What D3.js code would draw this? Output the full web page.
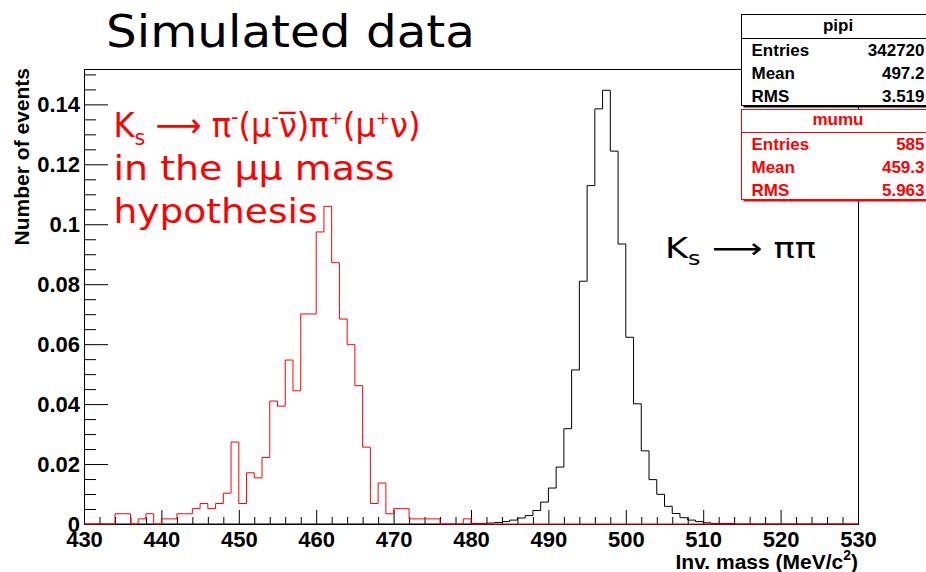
<!DOCTYPE html>
<html lang="en">
<head>
<meta charset="utf-8">
<title>Simulated data</title>
<script src="https://d3js.org/d3.v7.min.js"></script>
<style>
  body { margin: 0; background: #fff; }
  .tick text { font: bold 22px "Liberation Sans", Arial, sans-serif; fill: #000; }
  .tick line { stroke: #000; }
  .stat { font: bold 17px "Liberation Sans", Arial, sans-serif; }
  .slide { font-family: "DejaVu Sans", Verdana, sans-serif; }
</style>
</head>
<body>
<svg width="926" height="572"></svg>
<script>
// axis ranges / ticks
const xRange = [430, 530];
const yTop = 0.1518;
const xMajor = [430, 440, 450, 460, 470, 480, 490, 500, 510, 520, 530];
const yMajor = [0, 0.02, 0.04, 0.06, 0.08, 0.1, 0.12, 0.14];

// pipi: normalised bin contents (1 MeV bins) starting at 480 MeV
const pipiStart = 480;
const pipiValues = [
  0.0002, 0.0002, 0.0003, 0.0005, 0.0008, 0.0013, 0.002, 0.0028, 0.0045, 0.0073,
  0.012, 0.019, 0.0318, 0.0514, 0.081, 0.1129, 0.1385, 0.1447, 0.1244, 0.0934,
  0.0623, 0.0401, 0.0244, 0.0148, 0.0099, 0.0059, 0.0035, 0.0021, 0.0013, 0.0008,
  0.0004, 0.0002, 0.0002, 0.0002
];

// mumu: counts per 1 MeV bin starting at 434 MeV (drawn divided by entries)
const mumuStart = 434;
const mumuCounts = [
  2, 2, 0, 1, 2, 0, 1, 1, 2, 2,
  3, 4, 3, 4, 6, 16, 4, 10, 9, 13,
  24, 23, 32, 26, 41, 41, 57, 62, 51, 40,
  35, 27, 15, 4, 8, 2, 3, 3, 1, 1,
  1, 1, 0, 0, 0, 1
];

const statNames = ["Entries", "Mean", "RMS"];
const pipiStats = ["342720", "497.2", "3.519"];
const mumuStats = ["585", "459.3", "5.963"];

const svg = d3.select("svg");
const x = d3.scaleLinear().domain(xRange).range([84, 858]);
const y = d3.scaleLinear().domain([0, yTop]).range([524, 69]);

// frame
svg.append("rect")
  .attr("x", 84.5).attr("y", 69.5)
  .attr("width", 774).attr("height", 455)
  .attr("fill", "none").attr("stroke", "#000");

// axes (ticks inside the frame, ROOT style)
const minorX = d3.range(430, 531, 2).filter(d => d % 10 !== 0);
const minorY = d3.range(0, 0.1501, 0.005).filter(d => Math.round(d * 1000) % 20 !== 0);

const gx = svg.append("g").attr("transform", "translate(0,524)");
gx.call(d3.axisBottom(x).tickValues(minorX).tickSizeInner(-7).tickSizeOuter(0).tickFormat(""));
gx.append("g").call(d3.axisBottom(x).tickValues(xMajor).tickSizeInner(-14).tickSizeOuter(0)
  .tickPadding(7).tickFormat(d3.format("d")));

const gy = svg.append("g").attr("transform", "translate(84,0)");
gy.call(d3.axisLeft(y).tickValues(minorY).tickSizeInner(-12).tickSizeOuter(0).tickFormat(""));
gy.append("g").call(d3.axisLeft(y).tickValues(yMajor).tickSizeInner(-24).tickSizeOuter(0)
  .tickPadding(4).tickFormat(d => d === 0 ? "0" : d3.format(".2~f")(d)));

svg.selectAll(".domain").remove();

// histograms
function fullBins(start, vals, scale) {
  const pts = [];
  for (let b = xRange[0]; b < xRange[1]; b++) {
    const i = b - start;
    const v = (i >= 0 && i < vals.length) ? vals[i] * scale : 0;
    pts.push([b, v]);
  }
  pts.push([xRange[1], pts[pts.length - 1][1]]);
  return pts;
}
const step = d3.line().x(d => x(d[0])).y(d => y(d[1])).curve(d3.curveStepAfter);

svg.append("path")
  .attr("d", step(fullBins(pipiStart, pipiValues, 1)))
  .attr("fill", "none").attr("stroke", "#000").attr("stroke-width", 1);

svg.append("path")
  .attr("d", step(fullBins(mumuStart, mumuCounts, 1 / +mumuStats[0])))
  .attr("fill", "none").attr("stroke", "#ff0000").attr("stroke-width", 1);

// axis titles
svg.append("text")
  .attr("transform", "translate(29,68) rotate(-90)")
  .attr("text-anchor", "end")
  .style("font", "bold 21px 'Liberation Sans', Arial, sans-serif")
  .text("Number of events");

const xt = svg.append("text")
  .attr("x", 858).attr("y", 569)
  .attr("text-anchor", "end")
  .style("font", "bold 21px 'Liberation Sans', Arial, sans-serif");
xt.append("tspan").text("Inv. mass (MeV/c");
xt.append("tspan").attr("font-size", 14).attr("dy", -9).text("2");
xt.append("tspan").attr("dy", 9).text(")");

// stats boxes
function statBox(top, sepY, bottom, color, title, vals) {
  const g = svg.append("g");
  g.append("rect").attr("x", 743.5).attr("y", top + 2.5)
    .attr("width", 200).attr("height", bottom - top).attr("fill", color);
  g.append("rect").attr("x", 741.5).attr("y", top + 0.5)
    .attr("width", 200).attr("height", bottom - top)
    .attr("fill", "#fff").attr("stroke", color);
  g.append("line").attr("x1", 741.5).attr("x2", 940).attr("y1", sepY + 0.5).attr("y2", sepY + 0.5)
    .attr("stroke", color);
  g.append("text").attr("class", "stat").attr("fill", color)
    .attr("x", 838).attr("y", sepY - 7).attr("text-anchor", "middle").text(title);
  statNames.forEach((n, i) => {
    const by = sepY + 18 + i * 22.8;
    g.append("text").attr("class", "stat").attr("fill", color)
      .attr("x", 751.5).attr("y", by).text(n);
    g.append("text").attr("class", "stat").attr("fill", color)
      .attr("x", 924.5).attr("y", by).attr("text-anchor", "end").text(vals[i]);
  });
}
statBox(14, 38, 105, "#000", "pipi", pipiStats);
statBox(109, 132, 199, "#ff0000", "mumu", mumuStats);

// slide annotations
svg.append("text").attr("class", "slide")
  .attr("x", 106).attr("y", 47)
  .attr("font-size", 44)
  .attr("textLength", 369).attr("lengthAdjust", "spacingAndGlyphs")
  .text("Simulated data");

function rich(xp, yp, size, len, color, parts) {
  const t = svg.append("text").attr("class", "slide")
    .attr("x", xp).attr("y", yp).attr("font-size", size).attr("fill", color)
    .attr("textLength", len).attr("lengthAdjust", "spacingAndGlyphs");
  let shift = 0;
  parts.forEach(p => {
    const s = p.shift || 0;
    const ts = t.append("tspan").attr("dy", s - shift).text(p.t);
    if (p.size) ts.attr("font-size", p.size);
    shift = s;
  });
  return t;
}

rich(113.5, 137, 34, 307, "#ff0000", [
  {t: "K"}, {t: "s", size: 22, shift: 8}, {t: " \u27f6 "}, {t: "\u03c0"},
  {t: "-", size: 22, shift: -13}, {t: "(\u03bc"}, {t: "-", size: 22, shift: -13},
  {t: "\u03bd\u0305"}, {t: ")\u03c0"}, {t: "+", size: 18, shift: -13},
  {t: "(\u03bc"}, {t: "+", size: 18, shift: -13}, {t: "\u03bd)"}
]);
rich(113.5, 180, 34, 281, "#ff0000", [{t: "in the \u03bc\u03bc mass"}]);
rich(113.5, 223, 34, 204, "#ff0000", [{t: "hypothesis"}]);

rich(665, 258, 28, 151, "#000", [
  {t: "K"}, {t: "s", size: 19, shift: 7}, {t: " \u27f6 \u03c0\u03c0"}
]);
</script>
</body>
</html>
